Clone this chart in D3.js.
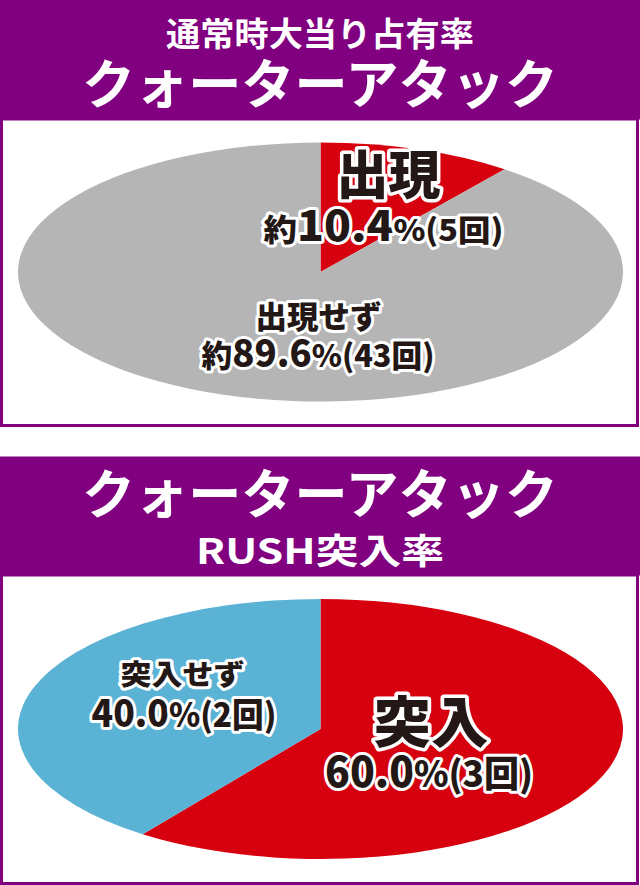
<!DOCTYPE html>
<html>
<head>
<meta charset="utf-8">
<script src="https://cdn.jsdelivr.net/npm/d3@7"></script>
<style>
  html, body { margin: 0; padding: 0; background: #fff; }
  svg { display: block; }
  text { font-family: "Noto Sans CJK JP", "Noto Sans", sans-serif; }
</style>
</head>
<body>
<div id="chart"></div>
<script>
// ---- data ----
const topTitle = ["通常時大当り占有率", "クォーターアタック"];
const topCategories = ["出現", "出現せず"];
const topCounts = [5, 43];
const topPercents = ["10.4", "89.6"];

const bottomTitle = ["クォーターアタック", "RUSH突入率"];
const bottomCategories = ["突入", "突入せず"];
const bottomCounts = [3, 2];
const bottomPercents = ["60.0", "40.0"];

// ---- layout ----
const W = 640, H = 885;
const purple = "#800080";
const ink = "#231815";

const svg = d3.select("#chart").append("svg")
    .attr("width", W)
    .attr("height", H);

// draws one line of text made of parts with their own font sizes,
// then squeezes it horizontally so it fills the given width
function textLine(g, parts, cx, baseline, width, opts) {
    let t = g.append("text")
        .attr("x", 0)
        .attr("y", 0)
        .attr("fill", opts.fill)
        .attr("font-weight", opts.weight)
        .style("white-space", "pre");
    if (opts.stroke) {
        t.attr("stroke", opts.stroke)
            .attr("stroke-width", opts.strokeWidth)
            .attr("stroke-linejoin", "round")
            .attr("paint-order", "stroke fill");
    }
    parts.forEach((p) => {
        t.append("tspan").attr("font-size", p[1]).text(p[0]);
    });
    let len = t.node().getComputedTextLength();
    let s = width / len;
    t.attr("transform", `translate(${cx - width / 2}, ${baseline}) scale(${s}, 1)`);
    return t;
}

function header(y0, y1, lines) {
    let g = svg.append("g");
    g.append("rect")
        .attr("x", 0).attr("y", y0)
        .attr("width", W).attr("height", y1 - y0)
        .attr("fill", purple);
    lines.forEach((l) => {
        textLine(g, [[l.text, l.size]], W / 2, l.baseline, l.width,
            {fill: "#fff", weight: 700});
    });
}

function box(y0, y1) {
    svg.append("rect")
        .attr("x", 1.5).attr("y", y0)
        .attr("width", 636).attr("height", y1 - y0)
        .attr("fill", "#fff")
        .attr("stroke", purple)
        .attr("stroke-width", 3);
}

// pie squashed into an ellipse: arcs drawn on a circle of radius ry, x scaled
function ellipsePie(cx, cy, rx, ry, counts, colors) {
    let pie = d3.pie().sort(null).value((d) => d);
    let arc = d3.arc().innerRadius(0).outerRadius(ry);
    svg.append("g")
        .attr("transform", `translate(${cx}, ${cy}) scale(${rx / ry}, 1)`)
        .selectAll("path")
        .data(pie(counts))
        .enter().append("path")
        .attr("d", arc)
        .attr("fill", (d, i) => colors[i]);
}

function label(lines) {
    let g = svg.append("g");
    lines.forEach((l) => {
        textLine(g, l.parts, l.cx, l.baseline, l.width,
            {fill: ink, weight: 900, stroke: "#fff", strokeWidth: l.sw || 6});
    });
}

// ---- top chart ----
box(119, 425.5);
header(0, 119.5, [
    {text: topTitle[0], size: 33, baseline: 46, width: 308},
    {text: topTitle[1], size: 54, baseline: 104, width: 476}
]);
ellipsePie(320.5, 272, 302.5, 129.5, topCounts, ["#d7000f", "#b5b5b6"]);

label([
    {parts: [[topCategories[0], 52]], cx: 388.5, baseline: 194, width: 104, sw: 7},
    {parts: [["約", 31], [topPercents[0], 41], ["%(" + topCounts[0] + "回)", 30]],
        cx: 383.5, baseline: 241, width: 240}
]);
label([
    {parts: [[topCategories[1], 31]], cx: 318.5, baseline: 328, width: 126},
    {parts: [["約", 31], [topPercents[1], 37], ["%(" + topCounts[1] + "回)", 31]],
        cx: 318, baseline: 367, width: 233}
]);

// ---- bottom chart ----
box(575, 883.5);
header(456.5, 575.5, [
    {text: bottomTitle[0], size: 54, baseline: 514, width: 476},
    {text: bottomTitle[1], size: 35, baseline: 564, width: 248}
]);
ellipsePie(320.5, 729, 302.5, 130, bottomCounts, ["#d7000f", "#5ab2d5"]);

label([
    {parts: [[bottomCategories[0], 55]], cx: 431, baseline: 742, width: 115, sw: 7},
    {parts: [[bottomPercents[0], 42], ["%(" + bottomCounts[0] + "回)", 36]],
        cx: 429, baseline: 787, width: 208}
]);
label([
    {parts: [[bottomCategories[1], 28]], cx: 182.5, baseline: 685, width: 124},
    {parts: [[bottomPercents[1], 37], ["%(" + bottomCounts[1] + "回)", 33]],
        cx: 184, baseline: 727, width: 185}
]);
</script>
</body>
</html>
